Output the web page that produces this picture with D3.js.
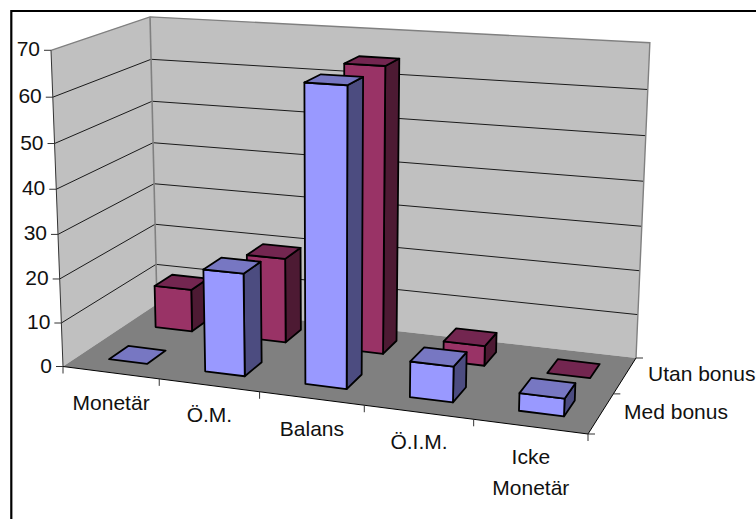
<!DOCTYPE html>
<html>
<head>
<meta charset="utf-8">
<script src="https://cdn.jsdelivr.net/npm/d3@7/dist/d3.min.js"></script>
<style>
html,body{margin:0;padding:0;background:#fff;overflow:hidden}
svg{display:block}
text{font-family:"Liberation Sans",Arial,sans-serif;font-size:21px;fill:#111}
</style>
</head>
<body>
<svg id="chart" width="756" height="519"></svg>
<script>
const categories = ["Monetär", "Ö.M.", "Balans", "Ö.I.M.", "Icke Monetär"];
const seriesNames = ["Med bonus", "Utan bonus"];
const medBonus = [0, 23, 65, 7.8, 3.8];
const utanBonus = [10, 19.7, 64.8, 4.5, 0];
const yTicks = [0, 10, 20, 30, 40, 50, 60, 70];

// Screen positions of the plot box corners that define the 3D view
const floorCorners = [[63, 366.5], [588, 434], [636, 358], [157, 304]];
const topCorners = [
  {x: 0, z: 0, p: [52, 48]},
  {x: 0, z: 1, p: [149, 16]},
  {x: 1, z: 1, p: [650, 46]}
];

function solve(A, b) {
  const n = b.length, M = A.map((r, i) => [...r, b[i]]);
  for (let i = 0; i < n; i++) {
    let piv = i;
    for (let k = i + 1; k < n; k++) if (Math.abs(M[k][i]) > Math.abs(M[piv][i])) piv = k;
    [M[i], M[piv]] = [M[piv], M[i]];
    for (let k = 0; k < n; k++) {
      if (k === i) continue;
      const f = M[k][i] / M[i][i];
      for (let j = i; j <= n; j++) M[k][j] -= f * M[i][j];
    }
  }
  return M.map((r, i) => r[n] / r[i]);
}

// Floor homography: (x, z) in the unit square to the screen
const unitSquare = [[0, 0], [1, 0], [1, 1], [0, 1]];
const hA = [], hB = [];
unitSquare.forEach(([s, t], i) => {
  const [u, v] = floorCorners[i];
  hA.push([s, t, 1, 0, 0, 0, -u * s, -u * t]); hB.push(u);
  hA.push([0, 0, 0, s, t, 1, -v * s, -v * t]); hB.push(v);
});
const hv = solve(hA, hB);
const H = [[hv[0], hv[1], hv[2]], [hv[3], hv[4], hv[5]], [hv[6], hv[7], 1]];
const floorH = (x, z) => H.map(r => r[0] * x + r[1] * z + r[2]);

// Vertical direction in homogeneous coordinates, least squares over the top corners
const lsA = [], lsB = [];
topCorners.forEach(({x, z, p: [u, v]}) => {
  const h = floorH(x, z);
  lsA.push([1, 0, -u]); lsB.push(u * h[2] - h[0]);
  lsA.push([0, 1, -v]); lsB.push(v * h[2] - h[1]);
});
const At = [0, 1, 2].map(i => [0, 1, 2].map(j => d3.sum(lsA, r => r[i] * r[j])));
const Ab = [0, 1, 2].map(i => d3.sum(lsA, (r, k) => r[i] * lsB[k]));
const up = solve(At, Ab);

function project(x, h, z) {
  const f = floorH(x, z);
  const w = f[2] + h * up[2];
  return [(f[0] + h * up[0]) / w, (f[1] + h * up[1]) / w];
}

// Scales in view-box units; the bars sit slightly off the band centres
const xScale = d3.scaleBand().domain(categories).range([0.003, 1.003]).paddingInner(0.6).paddingOuter(0.3);
const zScale = d3.scaleBand().domain(seriesNames).range([0.012, 1.012]).paddingInner(0.6).paddingOuter(0.3);
const yScale = d3.scaleLinear().domain([0, 70]).range([0, 1]);

const svg = d3.select("#chart");
const polyPath = pts => "M" + pts.map(p => p.map(v => v.toFixed(2)).join(",")).join("L") + "Z";
const linePath = pts => "M" + pts.map(p => p.map(v => v.toFixed(2)).join(",")).join("L");

// Chart frame, open on the right and at the bottom
svg.append("path").attr("d", "M11.3,519V11H756").attr("fill", "none").attr("stroke", "#000").attr("stroke-width", 2.2);

// Walls and floor
const wallTop = yScale(70);
svg.append("path").attr("d", polyPath([project(0,0,0), project(0,wallTop,0), project(0,wallTop,1), project(0,0,1)]))
  .attr("fill", "#c0c0c0");
svg.append("path").attr("d", polyPath([project(0,0,1), project(0,wallTop,1), project(1,wallTop,1), project(1,0,1)]))
  .attr("fill", "#c0c0c0");
svg.append("path").attr("d", polyPath([project(0,0,0), project(1,0,0), project(1,0,1), project(0,0,1)]))
  .attr("fill", "#808080");

// Gridlines on both walls
yTicks.filter(t => t > 0 && t < 70).forEach(t => {
  const h = yScale(t);
  svg.append("path").attr("d", linePath([project(0,h,0), project(0,h,1), project(1,h,1)]))
    .attr("fill", "none").attr("stroke", "#1a1a1a").attr("stroke-width", 1);
});

// Wall outlines
svg.append("path").attr("d", linePath([project(0,wallTop,0), project(0,wallTop,1), project(1,wallTop,1), project(1,0,1)]))
  .attr("fill", "none").attr("stroke", "#808080").attr("stroke-width", 1.4);
svg.append("path").attr("d", linePath([project(0,wallTop,1), project(0,0,1)]))
  .attr("fill", "none").attr("stroke", "#808080").attr("stroke-width", 1.6);
svg.append("path").attr("d", linePath([project(0,wallTop,0), project(0,0,0)]))
  .attr("fill", "none").attr("stroke", "#333").attr("stroke-width", 1);

// Axis lines along the front and right floor edges
svg.append("path").attr("d", linePath([project(0,0,0), project(1,0,0), project(1,0,1)]))
  .attr("fill", "none").attr("stroke", "#000").attr("stroke-width", 1);

// Value axis ticks and labels
yTicks.forEach(t => {
  const [px, py] = project(0, yScale(t), 0);
  svg.append("line").attr("x1", px - 7).attr("x2", px).attr("y1", py).attr("y2", py)
    .attr("stroke", "#333").attr("stroke-width", 1);
  svg.append("text").attr("x", px - 11).attr("y", py + 6).attr("text-anchor", "end").text(t);
});

// Category axis ticks and labels, centred between neighbouring ticks
const xEdges = categories.map((c, i) => i / categories.length).concat(1);
const edgePoints = xEdges.map(x => project(x, 0, 0));
edgePoints.forEach(([px, py]) => {
  svg.append("line").attr("x1", px).attr("x2", px).attr("y1", py).attr("y2", py + 7)
    .attr("stroke", "#333").attr("stroke-width", 1);
});
categories.forEach((c, k) => {
  const px = (edgePoints[k][0] + edgePoints[k + 1][0]) / 2;
  const py = (edgePoints[k][1] + edgePoints[k + 1][1]) / 2;
  const label = svg.append("text").attr("text-anchor", "middle");
  c.split(" ").forEach((w, i) => label.append("tspan").attr("x", px).attr("y", py + 37 + i * 31).text(w));
});

// Depth axis ticks and labels
[0, 0.5, 1].forEach(z => {
  const [px, py] = project(1, 0, z);
  svg.append("line").attr("x1", px).attr("x2", px + 7).attr("y1", py).attr("y2", py)
    .attr("stroke", "#333").attr("stroke-width", 1);
});
seriesNames.forEach((s, i) => {
  const [px, py] = project(1, 0, 0.25 + i * 0.5);
  svg.append("text").attr("x", px + 23).attr("y", py + 6).text(s);
});

// Bars, back row first
const seriesColors = {
  "Med bonus":  {front: "#9999ff", top: "#7777c2", side: "#4c4c80"},
  "Utan bonus": {front: "#993366", top: "#732650", side: "#4d1a33"}
};
const seriesValues = {"Med bonus": medBonus, "Utan bonus": utanBonus};

[...seriesNames].reverse().forEach(s => {
  const z0 = zScale(s), z1 = z0 + zScale.bandwidth();
  const colors = seriesColors[s];
  categories.forEach((c, i) => {
    const x0 = xScale(c), x1 = x0 + xScale.bandwidth();
    const h = yScale(seriesValues[s][i]);
    const g = svg.append("g").attr("stroke", "#000").attr("stroke-width", 1.8).attr("stroke-linejoin", "round");
    if (h > 0) {
      g.append("path").attr("fill", colors.side)
        .attr("d", polyPath([project(x1,0,z0), project(x1,0,z1), project(x1,h,z1), project(x1,h,z0)]));
      g.append("path").attr("fill", colors.front)
        .attr("d", polyPath([project(x0,0,z0), project(x1,0,z0), project(x1,h,z0), project(x0,h,z0)]));
    }
    g.append("path").attr("fill", colors.top)
      .attr("d", polyPath([project(x0,h,z0), project(x1,h,z0), project(x1,h,z1), project(x0,h,z1)]));
  });
});
</script>
</body>
</html>
